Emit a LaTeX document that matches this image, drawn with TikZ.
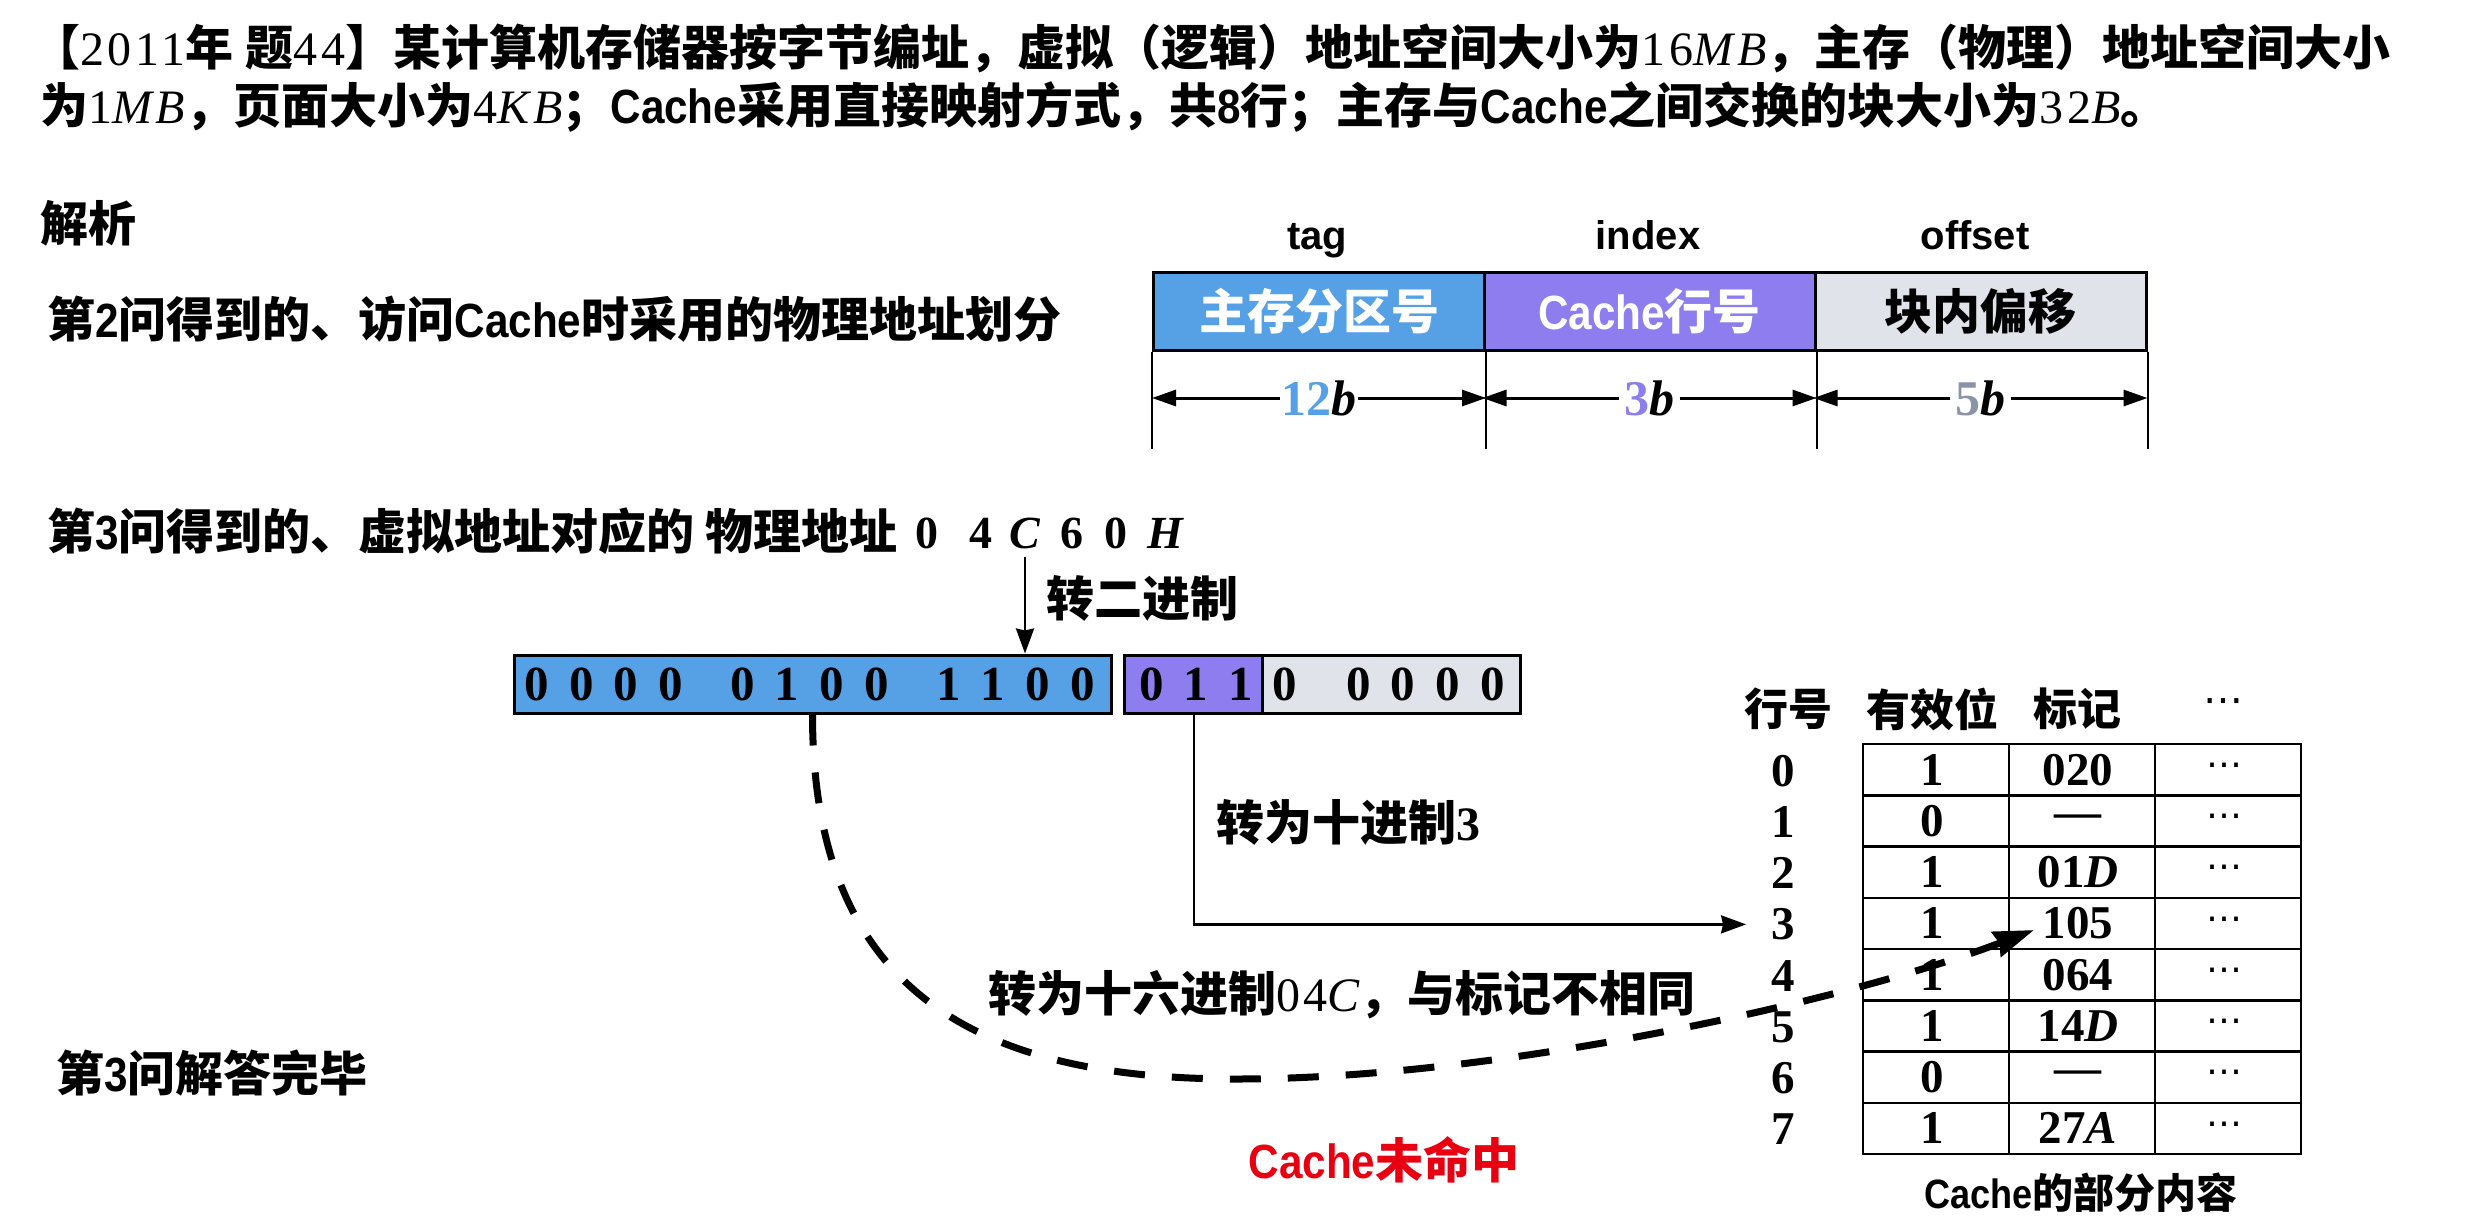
\documentclass[tikz,border=0pt]{standalone}
\usepackage{fontspec}
\usetikzlibrary{arrows.meta,calc}
\setmainfont{Noto Sans CJK SC}
\newfontfamily\serifreg{Liberation Serif}
\newfontfamily\mathreg[LetterSpace=8]{Liberation Serif}
\newfontfamily\sansb[FakeStretch=0.88]{Liberation Sans}
\newfontfamily\sansw{Liberation Sans}
\newfontfamily\dejav{DejaVu Sans}
\newcommand\SR[1]{{\mathreg\mdseries #1}}
\newcommand\SI[1]{{\mathreg\mdseries\itshape #1}}
\newcommand\SB[1]{{\serifreg\bfseries #1}}
\newcommand\AR[1]{{\sansb\bfseries #1}}
\newcommand\fs[1]{\fontsize{#1}{#1}\selectfont}
\newcommand\dg[1]{\makebox[44.7pt]{#1}}
\definecolor{cblue}{HTML}{56A0E6}
\definecolor{cpurple}{HTML}{8E7DEE}
\definecolor{cgray}{HTML}{E1E3EA}
\definecolor{cgraytext}{HTML}{8A93A8}
\definecolor{cred}{HTML}{E60012}
\tikzset{
  txt/.style={inner sep=0pt,font=\bfseries\fs{48}},
  lefttxt/.style={txt,anchor=base west},
  lbl/.style={inner sep=0pt,anchor=base,font=\sansw\bfseries\fs{40}},
  field/.style={draw=black,line width=3pt,inner sep=0pt,minimum width=331pt,minimum height=78pt,font=\bfseries\fs{48}},
  bitbox/.style={draw=black,line width=3pt,inner sep=0pt,minimum height=58pt,font=\serifreg\bfseries\fs{49}},
  cell/.style={draw=black,line width=2.5pt,inner sep=0pt,minimum width=146pt,minimum height=51.25pt,font=\serifreg\bfseries\fs{47}},
  rownum/.style={inner sep=0pt,font=\serifreg\bfseries\fs{47}},
  thin/.style={line width=2.5pt,draw=black},
  thinarr/.style={thin,-{Stealth[length=25pt,width=18pt,inset=2pt]}},
  dimarr/.style={line width=3pt,draw=black,-{Stealth[length=24pt,width=16pt,inset=0pt]}},
  tick/.style={line width=2pt,draw=black},
  dashedarr/.style={line width=7pt,draw=black,dash pattern=on 31pt off 27pt,-{Stealth[length=40pt,width=26pt,inset=3pt]}},
}
\begin{document}
\begin{tikzpicture}[x=1pt,y=-1pt]
\useasboundingbox (0,0) rectangle (2465,1224);
% heading
\node[lefttxt] (h1) at (32,65) {【\SR{2011}年\kern 12pt 题\SR{44}】某计算机存储器按字节编址，虚拟（逻辑）地址空间大小为\SR{16}\SI{MB}，主存（物理）地址空间大小};
\node[lefttxt] (h2) at (40,123) {为\SR{1}\SI{MB}，页面大小为\SR{4}\SI{KB}；\AR{Cache}采用直接映射方式，共\AR{8}行；主存与\AR{Cache}之间交换的块大小为\SR{32}\SI{B}。};
\node[lefttxt] (jx) at (40,241) {解析};
\node[lefttxt] (q2) at (47,337) {第\AR{2}问得到的、访问\AR{Cache}时采用的物理地址划分};
\node[lefttxt] (q3) at (47,549) {第\AR{3}问得到的、虚拟地址对应的 物理地址};
\node[txt,font=\serifreg\bfseries\fs{46}] (pa0) at (927,533) {0};
\node[txt,font=\serifreg\bfseries\fs{46}] (pa4) at (981,533) {4};
\node[txt,font=\serifreg\bfseries\itshape\fs{46}] (paC) at (1025,533) {C};
\node[txt,font=\serifreg\bfseries\fs{46}] (pa6) at (1072,533) {6};
\node[txt,font=\serifreg\bfseries\fs{46}] (pb0) at (1116,533) {0};
\node[txt,font=\serifreg\bfseries\itshape\fs{46}] (paH) at (1165,533) {H};
\node[lefttxt] (done) at (56,1091) {第\AR{3}问解答完毕};
% field table
\node[lbl] (ltag) at (1317,249) {tag};
\node[lbl] (lindex) at (1648,249) {index};
\node[lbl] (loffset) at (1975,249) {offset};
\node[field,fill=cblue,text=white] (ftag) at (1319,311) {主存分区号};
\node[field,fill=cpurple,text=white] (findex) at (1649.5,311) {\AR{Cache}行号};
\node[field,fill=cgray] (foff) at (1980.5,311) {块内偏移};
\draw[tick] (ftag.south west) -- ++(0,97);
\draw[tick] (ftag.south east) -- ++(0,97);
\draw[tick] (findex.south east) -- ++(0,97);
\draw[tick] (foff.south east) -- ++(0,97);
\node[inner sep=1pt,font=\serifreg\bfseries\fs{50}] (d1) at (1319,398) {\textcolor{cblue}{12}\textit{b}};
\node[inner sep=5pt,font=\serifreg\bfseries\fs{50}] (d2) at (1649.5,398) {\textcolor{cpurple}{3}\textit{b}};
\node[inner sep=5pt,font=\serifreg\bfseries\fs{50}] (d3) at (1980.5,398) {\textcolor{cgraytext}{5}\textit{b}};
\draw[dimarr] (d1.west) -- (d1.west -| ftag.west);
\draw[dimarr] (d1.east) -- (d1.east -| ftag.east);
\draw[dimarr] (d2.west) -- (d2.west -| findex.west);
\draw[dimarr] (d2.east) -- (d2.east -| findex.east);
\draw[dimarr] (d3.west) -- (d3.west -| foff.west);
\draw[dimarr] (d3.east) -- (d3.east -| foff.east);
% bit boxes
\node[bitbox,fill=cblue,minimum width=597pt] (bt) at (812.5,684) {\dg{0}\dg{0}\dg{0}\dg{0}\kern 27pt\dg{0}\dg{1}\dg{0}\dg{0}\kern 27pt\dg{1}\dg{1}\dg{0}\dg{0}\kern 6pt};
\node[bitbox,fill=cpurple,minimum width=136pt] (bi) at (1194,684) {\kern 4pt\dg{0}\dg{1}\dg{1}};
\node[bitbox,fill=cgray,minimum width=241pt] (bo) at (1391.5,684) {\dg{0}\kern 29pt\dg{0}\dg{0}\dg{0}\dg{0}\kern 6pt};
\node[txt] (tobin) at (1142,598) {转二进制};
\node[txt] (todec) at (1348,822) {转为十进制\SB{3}};
\node[txt] (tohex) at (1342,995) {转为十六进制\SR{04}\SI{C}，与标记不相同};
\node[txt,text=cred] (miss) at (1384,1160) {\AR{Cache}未命中};
% cache table
\node[txt,font=\bfseries\fs{44}] (hrow) at (1788,709) {行号};
\node[txt,font=\bfseries\fs{44}] (hval) at (1932,709) {有效位};
\node[txt,font=\bfseries\fs{44}] (htag) at (2077,709) {标记};
\node[inner sep=0pt,font=\dejav\fs{40}] (hdots) at (2223,706) {⋯};
\foreach \i/\v/\t in {0/1/{020},1/0/{—},2/1/{01\textit{D}},3/1/{105},4/1/{064},5/1/{14\textit{D}},6/0/{—},7/1/{27\textit{A}}}{
  \node[rownum] (r\i) at (1783,{744+51.25*(\i+0.5)+1}) {\i};
  \node[cell] (v\i) at (1936,{744+51.25*(\i+0.5)}) {\v\hspace*{8pt}};
  \node[cell] (t\i) at (2082,{744+51.25*(\i+0.5)}) {\t\hspace*{8pt}};
  \node[cell,font=\dejav\fs{36}] (x\i) at (2228,{744+51.25*(\i+0.5)}) {⋯\hspace*{8pt}};
}
\node[txt,font=\bfseries\fs{41}] (cap) at (2081,1193) {\AR{Cache}的部分内容};
% connectors
\draw[thinarr] (paC.south) ++(0,8) -- (paC.south |- bt.north);
\draw[thinarr,shorten >=25pt] (bi.south) |- (r3.west);
\coordinate (tip) at (2034,930);
\draw[dashedarr] (bt.south) .. controls (812.5,990) and (975,1079) .. (1236,1079) .. controls (1500,1079) and (1850,1000) .. (tip);
\end{tikzpicture}
\end{document}
